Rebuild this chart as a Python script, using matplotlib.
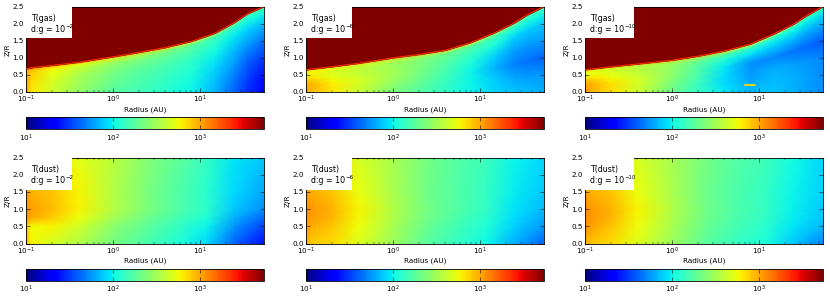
import matplotlib
matplotlib.use("Agg")
import matplotlib.pyplot as plt
import numpy as np
from matplotlib.colors import LogNorm, Normalize
from matplotlib.cm import ScalarMappable

W, H = 830, 296
VMIN, VMAX = 10.0, 5500.0
RMIN, RMAX = 0.1, 55.0

# Gas grids: values are log10 T, columns follow gas_r, rows are fractions of the hot-layer height
gas_r = [0.1, 0.115, 0.2, 0.4, 1, 2, 4, 8, 15, 25, 35, 55]
gas_frac = [0, 0.2, 0.4, 0.6, 0.8, 0.93, 1.0]

gas1_top = [0.68, 0.71, 0.78, 0.87, 1.03, 1.16, 1.30, 1.48, 1.72, 2.03, 2.28, 2.50]
gas2_top = [0.65, 0.67, 0.74, 0.84, 1.00, 1.10, 1.22, 1.45, 1.74, 2.02, 2.25, 2.50]
gas3_top = [0.65, 0.67, 0.74, 0.82, 0.93, 1.05, 1.20, 1.40, 1.70, 1.98, 2.22, 2.50]

gas1 = [
    [3.03, 2.81, 2.64, 2.45, 2.25, 2.17, 2.10, 2.00, 1.83, 1.62, 1.47, 1.33],
    [3.03, 2.82, 2.66, 2.48, 2.29, 2.20, 2.12, 2.02, 1.86, 1.67, 1.53, 1.38],
    [3.05, 2.85, 2.68, 2.50, 2.32, 2.23, 2.15, 2.06, 1.92, 1.75, 1.62, 1.50],
    [3.05, 2.88, 2.71, 2.54, 2.36, 2.27, 2.20, 2.11, 1.99, 1.84, 1.75, 1.65],
    [3.02, 2.90, 2.75, 2.60, 2.44, 2.35, 2.28, 2.19, 2.08, 1.97, 1.90, 1.85],
    [3.00, 2.95, 2.82, 2.72, 2.60, 2.50, 2.40, 2.28, 2.16, 2.10, 2.05, 2.02],
    [3.10, 3.10, 3.10, 3.05, 3.00, 2.95, 2.90, 2.70, 2.50, 2.30, 2.20, 2.20],
]
gas2 = [
    [3.00, 2.95, 2.80, 2.62, 2.38, 2.25, 2.12, 2.00, 1.92, 1.87, 1.85, 1.82],
    [3.00, 2.97, 2.82, 2.65, 2.42, 2.28, 2.14, 2.00, 1.89, 1.80, 1.77, 1.75],
    [2.97, 2.95, 2.78, 2.68, 2.48, 2.33, 2.17, 2.00, 1.82, 1.69, 1.65, 1.62],
    [2.85, 2.85, 2.72, 2.62, 2.50, 2.36, 2.22, 2.05, 1.89, 1.77, 1.75, 1.75],
    [2.78, 2.78, 2.68, 2.60, 2.48, 2.38, 2.27, 2.15, 2.05, 1.92, 1.89, 1.87],
    [2.78, 2.78, 2.72, 2.65, 2.55, 2.45, 2.34, 2.25, 2.15, 2.10, 2.06, 2.03],
    [3.00, 3.00, 3.00, 3.00, 3.00, 2.95, 2.90, 2.70, 2.50, 2.30, 2.20, 2.20],
]
gas3 = [
    [3.05, 2.98, 2.82, 2.65, 2.32, 2.14, 1.97, 1.86, 1.87, 1.82, 1.78, 1.72],
    [3.05, 3.00, 2.85, 2.65, 2.35, 2.14, 1.94, 1.80, 1.85, 1.82, 1.78, 1.72],
    [3.00, 2.98, 2.82, 2.68, 2.40, 2.19, 1.94, 1.76, 1.82, 1.78, 1.75, 1.70],
    [2.85, 2.85, 2.75, 2.62, 2.44, 2.22, 1.97, 1.72, 1.70, 1.66, 1.63, 1.58],
    [2.75, 2.75, 2.68, 2.58, 2.44, 2.26, 2.08, 1.96, 1.90, 1.86, 1.83, 1.80],
    [2.72, 2.72, 2.65, 2.58, 2.50, 2.38, 2.27, 2.15, 2.07, 2.03, 2.00, 1.97],
    [3.00, 3.00, 3.00, 3.00, 3.00, 2.95, 2.90, 2.70, 2.50, 2.30, 2.20, 2.20],
]
spot_r = [6.9, 7.6, 8.3, 9.0]
spot_z = [0.2, 0.2, 0.2, 0.2]

# Dust grids: values are log10 T
dust_r = [0.1, 0.115, 0.2, 0.4, 1, 2.5, 6, 12, 25, 55]
dust_z = [0, 0.5, 0.75, 1.0, 1.5, 2.5]
dust1 = [
    [2.97, 2.78, 2.66, 2.55, 2.35, 2.20, 2.05, 1.93, 1.62, 1.38],
    [2.92, 2.76, 2.78, 2.65, 2.42, 2.27, 2.12, 2.00, 1.74, 1.52],
    [3.08, 3.00, 2.90, 2.74, 2.50, 2.32, 2.17, 2.06, 1.82, 1.62],
    [3.08, 3.03, 2.94, 2.79, 2.56, 2.38, 2.22, 2.11, 1.88, 1.72],
    [3.05, 2.97, 2.92, 2.78, 2.56, 2.37, 2.22, 2.10, 1.93, 1.80],
    [2.86, 2.84, 2.80, 2.72, 2.58, 2.40, 2.26, 2.13, 1.96, 1.88],
]
dust2 = [
    [2.97, 2.90, 2.86, 2.70, 2.48, 2.26, 2.12, 2.01, 1.82, 1.62],
    [3.05, 3.00, 2.92, 2.75, 2.52, 2.30, 2.16, 2.07, 1.90, 1.75],
    [3.08, 3.03, 2.96, 2.77, 2.54, 2.33, 2.19, 2.10, 1.94, 1.80],
    [3.10, 3.05, 2.97, 2.78, 2.55, 2.34, 2.21, 2.12, 1.96, 1.84],
    [3.05, 2.99, 2.92, 2.74, 2.53, 2.33, 2.21, 2.13, 1.98, 1.88],
    [2.82, 2.82, 2.82, 2.68, 2.52, 2.34, 2.23, 2.15, 2.00, 1.91],
]
dust3 = [
    [2.97, 2.92, 2.86, 2.70, 2.48, 2.26, 2.13, 2.05, 1.88, 1.70],
    [3.08, 3.03, 2.92, 2.75, 2.52, 2.30, 2.17, 2.10, 1.96, 1.84],
    [3.10, 3.05, 2.96, 2.77, 2.54, 2.32, 2.19, 2.12, 1.98, 1.87],
    [3.11, 3.05, 2.97, 2.78, 2.55, 2.33, 2.20, 2.13, 1.99, 1.88],
    [3.05, 2.97, 2.92, 2.74, 2.53, 2.32, 2.20, 2.13, 2.00, 1.90],
    [2.81, 2.81, 2.82, 2.68, 2.52, 2.34, 2.23, 2.16, 2.02, 1.92],
]

col_left = [26, 306, 585]
col_width = 238
dg_exponents = ["\u22122", "\u22126", "\u221210"]
box_width = [46, 46, 49]
TICK_FS = 5.2
LABEL_FS = 5.7
LW = 0.6
plt.rcParams["mathtext.fontset"] = "dejavusans"


def px_axes(fig, x0, y0, x1, y1):
    return fig.add_axes([x0 / W, 1 - y1 / H, (x1 - x0) / W, (y1 - y0) / H])


def style(ax):
    for s in ax.spines.values():
        s.set_linewidth(LW)
    ax.tick_params(which="major", direction="in", length=3, width=0.4,
                   labelsize=TICK_FS, pad=1.5, top=True, right=True)
    ax.tick_params(which="minor", direction="in", length=1.5, width=0.3, top=True, right=True)


def finish(ax, label, exponent, bw):
    ax.set_xscale("log")
    ax.set_xlim(RMIN, RMAX)
    ax.set_ylim(0, 2.5)
    ax.set_yticks([0, 0.5, 1.0, 1.5, 2.0, 2.5])
    ax.set_xlabel("Radius (AU)", fontsize=TICK_FS, labelpad=0.5)
    ax.set_ylabel("Z/R", fontsize=TICK_FS, labelpad=1)
    style(ax)
    ax.add_patch(plt.Rectangle((0, 1 - 32 / 86), bw / col_width, 32 / 86, transform=ax.transAxes,
                               facecolor="white", edgecolor="none", zorder=5))
    ax.text(0.02, 0.865, label, transform=ax.transAxes, fontsize=LABEL_FS, zorder=6, va="center")
    base = ax.text(0.02, 0.735, "d:g = 10", transform=ax.transAxes, fontsize=LABEL_FS,
                   zorder=6, va="center")
    box = base.get_window_extent(ax.figure.canvas.get_renderer())
    inv = ax.transAxes.inverted()
    x_end = inv.transform((box.x1, box.y1))[0]
    ax.text(x_end, 0.765, exponent, transform=ax.transAxes, fontsize=3.9, zorder=6, va="center")


def colorbar(fig, mappable, x0, y0, y1):
    cax = px_axes(fig, x0, y0, x0 + col_width, y1)
    cb = fig.colorbar(mappable, cax=cax, orientation="horizontal")
    cb.set_ticks([10, 100, 1000])
    cb.ax.minorticks_off()
    cb.ax.tick_params(which="major", direction="in", length=3, width=0.4,
                      labelsize=TICK_FS, pad=2.5, bottom=True, top=True)
    cb.outline.set_linewidth(LW)


fig = plt.figure(figsize=(W / 100, H / 100), dpi=100)
norm = LogNorm(VMIN, VMAX)
log_norm = Normalize(np.log10(VMIN), np.log10(VMAX))
cmap = plt.get_cmap("jet")
sm = ScalarMappable(norm=norm, cmap=cmap)

gas_sets = [(gas1, gas1_top), (gas2, gas2_top), (gas3, gas3_top)]
for i, (grid, top) in enumerate(gas_sets):
    ax = px_axes(fig, col_left[i], 6.5, col_left[i] + col_width, 92)
    X = np.tile(np.array(gas_r, float), (len(gas_frac), 1))
    Y = np.outer(gas_frac, top)
    ax.pcolormesh(X, Y, np.array(grid), shading="gouraud", cmap=cmap, norm=log_norm, rasterized=True)
    ax.fill_between(gas_r, top, 2.6, color=cmap(1.0), lw=0.4, zorder=2)
    ax.plot(gas_r, top, color=cmap(0.86), lw=0.7, zorder=3)
    if i == 2:
        ax.plot(spot_r, spot_z, color=cmap(0.68), lw=1.3, zorder=3, solid_capstyle="round")
    finish(ax, "T(gas)", dg_exponents[i], box_width[i])
    colorbar(fig, sm, col_left[i], 117, 129)

dust_sets = [dust1, dust2, dust3]
for i, grid in enumerate(dust_sets):
    ax = px_axes(fig, col_left[i], 157.5, col_left[i] + col_width, 243.5)
    ax.pcolormesh(dust_r, dust_z, np.array(grid), shading="gouraud", cmap=cmap, norm=log_norm, rasterized=True)
    finish(ax, "T(dust)", dg_exponents[i], box_width[i])
    colorbar(fig, sm, col_left[i], 268.5, 280.5)

fig.savefig("out.png", dpi=100)
